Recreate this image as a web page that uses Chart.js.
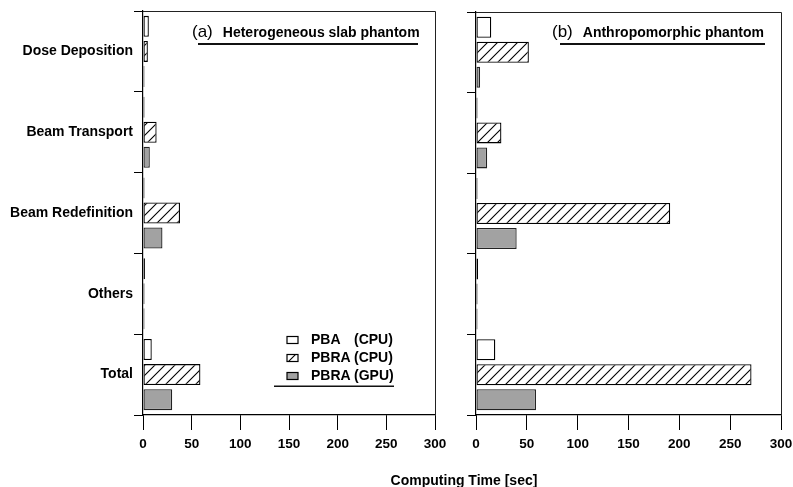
<!DOCTYPE html>
<html>
<head>
<meta charset="utf-8">
<script src="https://cdn.jsdelivr.net/npm/chart.js@4.4.1/dist/chart.umd.min.js"></script>
<style>
	body { margin: 0; background: #fff; width: 793px; height: 487px; position: relative; overflow: hidden;
	       font-family: 'Liberation Sans', Arial, sans-serif; color: #000; }
	canvas { position: absolute; top: 0; }
	#slabChart { left: 0; }
	#anthroChart { left: 450px; }
	.panelTitle { position: absolute; top: 22px; line-height: 20px; display: flex; align-items: baseline; white-space: nowrap; }
	.panelTitle .tag { font-size: 17px; }
	.panelTitle .name { font-size: 14px; font-weight: bold; margin-left: 10px; }
	.rule { position: absolute; height: 1.5px; background: #111; }
	#axisTitle { position: absolute; top: 471px; left: 364px; width: 200px; text-align: center;
	             font-size: 14px; font-weight: bold; line-height: 18px; }
</style>
</head>
<body>
<canvas id="slabChart" width="450" height="487"></canvas>
<canvas id="anthroChart" width="343" height="487"></canvas>

<div class="panelTitle" style="left:192px"><span class="tag">(a)</span><span class="name">Heterogeneous slab phantom</span></div>
<div class="rule" style="left:198px; width:220px; top:43px"></div>
<div class="panelTitle" style="left:552px"><span class="tag">(b)</span><span class="name">Anthropomorphic phantom</span></div>
<div class="rule" style="left:560px; width:205px; top:43px"></div>
<div id="axisTitle">Computing Time [sec]</div>

<script>
/* Data */
const categories = ['Dose Deposition', 'Beam Transport', 'Beam Redefinition', 'Others', 'Total'];
const seriesLabels = ['PBA (CPU)', 'PBRA (CPU)', 'PBRA (GPU)'];

// (a) heterogeneous slab phantom
const slabPbaCpu  = [6, 0.5, 0.5, 2, 9];
const slabPbraCpu = [5, 14, 38, 0.5, 59];
const slabPbraGpu = [1, 7, 20, 0.5, 30];

// (b) anthropomorphic phantom
const anthroPbaCpu  = [15, 1, 1, 2, 19];
const anthroPbraCpu = [52, 25, 191, 1, 271];
const anthroPbraGpu = [4, 11, 40, 1, 59];

const xMin = 0, xMax = 300, xStep = 50;

const FONT = "'Liberation Sans', Arial, sans-serif";

/* Fill patterns */
function makeHatch() {
	const c = document.createElement('canvas');
	c.width = 10; c.height = 10;
	const g = c.getContext('2d');
	g.fillStyle = '#fff';
	g.fillRect(0, 0, 10, 10);
	g.strokeStyle = '#000';
	g.lineWidth = 1.1;
	g.beginPath();
	g.moveTo(0, 10); g.lineTo(10, 0);
	g.moveTo(-1, 1); g.lineTo(1, -1);
	g.moveTo(9, 11); g.lineTo(11, 9);
	g.stroke();
	return g.createPattern(c, 'repeat');
}
const hatch = makeHatch();
const fills = ['#ffffff', hatch, '#a2a2a2'];

function makeDatasets(a, b, c) {
	return [a, b, c].map(function(vals, i) {
		return {
			label: seriesLabels[i],
			data: vals,
			backgroundColor: fills[i],
			borderColor: i == 2 ? '#222' : '#000',
			borderWidth: 1.3,
			borderSkipped: false,
			minBarLength: 1.5,
			categoryPercentage: 0.93,
			barPercentage: 0.84
		};
	});
}

/* Top and right edges of the panel box */
const framePlugin = {
	id: 'frame',
	afterDraw(chart) {
		const a = chart.chartArea, ctx = chart.ctx;
		ctx.save();
		ctx.strokeStyle = '#222';
		ctx.lineWidth = 1;
		ctx.beginPath();
		ctx.moveTo(a.left, a.top + 0.5);
		ctx.lineTo(a.right + 0.5, a.top + 0.5);
		ctx.lineTo(a.right + 0.5, a.bottom);
		ctx.stroke();
		ctx.restore();
	}
};

/* Legend inside panel (a), lower right */
const legendPlugin = {
	id: 'boxLegend',
	afterDraw(chart) {
		if (!chart.options.plugins.boxLegend || !chart.options.plugins.boxLegend.show) return;
		const ctx = chart.ctx;
		const rows = [340, 358, 376];
		ctx.save();
		ctx.font = 'bold 14px ' + FONT;
		ctx.textBaseline = 'middle';
		chart.data.datasets.forEach(function(ds, i) {
			const y = rows[i];
			ctx.fillStyle = ds.backgroundColor;
			ctx.fillRect(287, y - 3.5, 11, 7);
			ctx.strokeStyle = '#000';
			ctx.lineWidth = 1.2;
			ctx.strokeRect(287, y - 3.5, 11, 7);
			const parts = ds.label.split(' ');
			ctx.fillStyle = '#000';
			ctx.fillText(parts[0], 311, y);
			ctx.fillText(parts[1], 354, y);
		});
		ctx.fillStyle = '#111';
		ctx.fillRect(274, 385.5, 120, 1.5);
		ctx.restore();
	}
};

function drawPanel(canvasID, datasets, showLabels, yWidth, pad) {
	const ctx = document.getElementById(canvasID).getContext('2d');
	return new Chart(ctx, {
		type: 'bar',
		data: { labels: categories, datasets: datasets },
		plugins: [framePlugin, legendPlugin],
		options: {
			indexAxis: 'y',
			responsive: false,
			animation: false,
			devicePixelRatio: 1,
			layout: { padding: pad },
			plugins: {
				legend: { display: false },
				tooltip: { enabled: false },
				boxLegend: { show: showLabels }
			},
			scales: {
				y: {
					afterFit: function(scale) { scale.width = yWidth; },
					border: { display: true, color: '#000', width: 1.2 },
					grid: { offset: true, drawOnChartArea: false, drawTicks: true, tickLength: 9, color: '#000' },
					ticks: {
						display: showLabels,
						padding: 1,
						color: '#000',
						font: { family: FONT, size: 14, weight: 'bold' }
					}
				},
				x: {
					min: xMin, max: xMax,
					afterFit: function(scale) {
						scale.height = 72;
						scale.paddingLeft = 0;
						scale.paddingRight = 0;
					},
					border: { display: true, color: '#000', width: 1.2 },
					grid: { drawOnChartArea: false, drawTicks: true, tickLength: 15, color: '#000' },
					ticks: {
						stepSize: xStep,
						padding: 6,
						color: '#000',
						font: { family: FONT, size: 13.5, weight: 'bold' }
					}
				}
			}
		}
	});
}

drawPanel('slabChart', makeDatasets(slabPbaCpu, slabPbraCpu, slabPbraGpu), true, 143,
          { top: 11, right: 15, bottom: 0, left: 0 });
drawPanel('anthroChart', makeDatasets(anthroPbaCpu, anthroPbraCpu, anthroPbraGpu), false, 26,
          { top: 12, right: 12, bottom: 0, left: 0 });
</script>
</body>
</html>
